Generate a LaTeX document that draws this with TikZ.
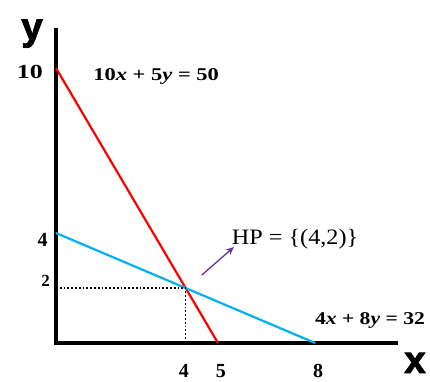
\documentclass[tikz,border=0pt]{standalone}
\usepackage{fontspec}
\setmainfont{Liberation Serif}
\newfontfamily\axisfont[BoldFeatures={FakeBold=2.5}]{Liberation Sans}
\usetikzlibrary{positioning,arrows.meta}
\definecolor{lineblue}{RGB}{0,176,240}
\definecolor{arrowpurple}{RGB}{112,48,160}
\tikzset{
  axis/.style={line width=3.2pt},
  axislab/.style={font=\axisfont\bfseries\fontsize{38}{38}\selectfont, inner sep=0pt},
  tick/.style={font=\bfseries\fontsize{20}{20}\selectfont, inner sep=0pt},
  eqn/.style={font=\bfseries\fontsize{18}{18}\selectfont, inner sep=0pt, xscale=1.25}
}

\begin{document}
\begin{tikzpicture}[x=32.4pt, y=27.5pt]
  \useasboundingbox (-1.728,-1.382) rectangle (11.543,12.473);
  % axes
  \coordinate (o) at (0,0);
  \coordinate (xend) at (10.56,0);
  \coordinate (yend) at (0,11.45);
  \draw[axis] (yend) -- (o) -- (xend);
  \node[axislab] (ylab) at (-0.74,11.25) {y};
  \node[axislab] (xlab) at (11.08,-0.72) {x};

  % lines
  \coordinate (a10) at (0,10);
  \coordinate (a5) at (5,0);
  \coordinate (b4) at (0,4);
  \coordinate (b8) at (8,0);
  \coordinate (hp) at (4,2);
  \draw[red, line width=2.2pt] (a10) -- (a5);
  \draw[lineblue, line width=2.2pt] (b4) -- (b8);
  \draw[line width=1.8pt, dash pattern=on 1.8pt off 2pt] (0,2) -- (hp) -- (4,0);

  % tick labels
  \node[tick, anchor=east, xscale=1.3] (t10) at (-0.4,9.85) {10};
  \node[tick, anchor=east] (t4y) at (-0.25,3.75) {4};
  \node[tick, anchor=east, font=\bfseries\fontsize{17}{17}\selectfont] (t2) at (-0.185,2.25) {2};
  \node[tick, anchor=base] (t4) at (3.95,-1.27) {4};
  \node[tick, anchor=base] (t5) at (5.09,-1.27) {5};
  \node[tick, anchor=base] (t8) at (8.09,-1.27) {8};

  % equations
  \node[eqn] (eqa) at (3.09,9.71) {10\textit{x} + 5\textit{y} = 50};
  \node[eqn, xscale=0.96] (eqb) at (9.69,0.82) {4\textit{x} + 8\textit{y} = 32};
  \node[font=\fontsize{22}{22}\selectfont, inner sep=0pt, xscale=1.1] (hplab) at (7.38,3.78) {HP = \{(4,2)\}};
  \coordinate (arr) at (4.5,2.47);
  \draw[arrowpurple, line width=1.3pt, -{Stealth[length=8pt,width=7pt]}] (arr) -- (5.49,3.49);
\end{tikzpicture}
\end{document}
